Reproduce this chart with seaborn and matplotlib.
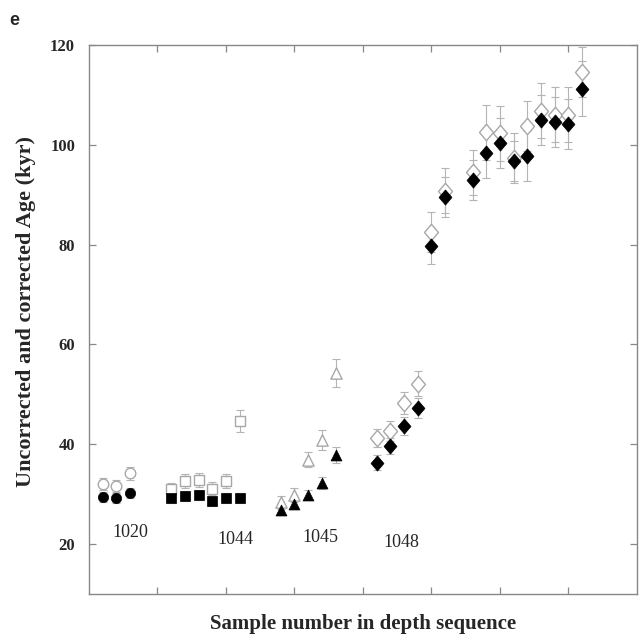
import numpy as np
import pandas as pd
import matplotlib
matplotlib.use("Agg")
import matplotlib.pyplot as plt
import seaborn as sns

# ---- data ----
circle_x = [1, 2, 3]
circle_corr = [29.5, 29.2, 30.2]
circle_corr_err = [1.0, 1.0, 1.0]
circle_unc = [32.0, 31.7, 34.2]
circle_unc_err = [1.2, 1.2, 1.3]

square_x = [6, 7, 8, 9, 10, 11]
square_corr = [29.2, 29.6, 29.8, 28.6, 29.3, 29.3]
square_corr_err = [1.0, 1.0, 1.0, 1.0, 1.0, 1.0]
square_unc = [31.0, 32.7, 32.9, 31.1, 32.6, 44.6]
square_unc_err = [1.2, 1.4, 1.4, 1.3, 1.4, 2.2]

tri_x = [14, 15, 16, 17, 18]
tri_corr = [26.8, 28.0, 29.8, 32.2, 37.8]
tri_corr_err = [1.0, 1.0, 1.0, 1.2, 1.6]
tri_unc = [28.4, 29.8, 36.9, 40.8, 54.3]
tri_unc_err = [1.3, 1.4, 1.5, 2.0, 2.8]

dia_x = [21, 22, 23, 24, 25, 26, 28, 29, 30, 31, 32, 33, 34, 35, 36]
dia_corr = [36.3, 39.6, 43.6, 47.3, 79.8, 89.5, 93.0, 98.3, 100.4, 96.8,
            97.8, 105.0, 104.5, 104.2, 111.2]
dia_corr_err = [1.5, 1.6, 1.8, 2.0, 3.6, 4.0, 4.0, 5.0, 5.0, 4.0,
                5.0, 5.0, 5.0, 5.0, 5.5]
dia_unc = [41.3, 42.6, 48.3, 52.1, 82.6, 90.8, 94.5, 102.5, 102.3, 97.4,
           103.7, 106.8, 106.0, 106.0, 114.5]
dia_unc_err = [1.8, 2.0, 2.2, 2.5, 4.0, 4.5, 4.5, 5.5, 5.5, 5.0,
               5.0, 5.5, 5.5, 5.5, 5.0]

group_names = ["1020", "1044", "1045", "1048"]
group_label_x = [3.0, 10.7, 16.9, 22.8]
group_label_y = [22.2, 20.8, 21.2, 20.2]

sns.set_style("white")
plt.rcParams["font.family"] = ["Liberation Serif", "DejaVu Serif"]

GREY = "#a8a8a8"
BAR = "#b4b4b4"
# diamond, slightly narrower than high
DIAMOND = [(0, 1), (0.85, 0), (0, -1), (-0.85, 0), (0, 1)]

fig = plt.figure(figsize=(6.42, 6.42), dpi=100)
ax = fig.add_axes([0.1386, 0.075, 0.8536, 0.855])

# marker, x, uncorrected, err, corrected, err, open size, filled size
series = [
    ("o", circle_x, circle_unc, circle_unc_err, circle_corr, circle_corr_err, 58, 55),
    ("s", square_x, square_unc, square_unc_err, square_corr, square_corr_err, 58, 60),
    ("^", tri_x, tri_unc, tri_unc_err, tri_corr, tri_corr_err, 66, 62),
    (DIAMOND, dia_x, dia_unc, dia_unc_err, dia_corr, dia_corr_err, 140, 120),
]

for marker, xs, unc, unc_err, corr, corr_err, s_open, s_fill in series:
    ax.errorbar(xs, unc, yerr=unc_err, fmt="none", ecolor=BAR,
                elinewidth=0.8, capsize=2.8, capthick=0.8, zorder=1)
    ax.errorbar(xs, corr, yerr=corr_err, fmt="none", ecolor=BAR,
                elinewidth=0.8, capsize=2.8, capthick=0.8, zorder=1)
    df_u = pd.DataFrame({"x": xs, "y": unc})
    df_c = pd.DataFrame({"x": xs, "y": corr})
    sns.scatterplot(data=df_u, x="x", y="y", marker=marker, s=s_open,
                    facecolor="white", edgecolor=GREY, linewidth=1.0,
                    ax=ax, zorder=2)
    sns.scatterplot(data=df_c, x="x", y="y", marker=marker, s=s_fill,
                    color="black", edgecolor="black", linewidth=0.5,
                    ax=ax, zorder=3)

for name, gx, gy in zip(group_names, group_label_x, group_label_y):
    ax.text(gx, gy, name, ha="center", va="center", fontsize=13)

ax.set_xlim(0, 40)
ax.set_ylim(10, 120)
ax.set_xticks([5, 10, 15, 20, 25, 30, 35])
ax.set_xticklabels([])
ax.set_yticks([20, 40, 60, 80, 100, 120])
ax.tick_params(axis="both", direction="in", length=5, color="#888888",
               top=True, right=True, bottom=True, left=True, width=0.9)
ax.tick_params(axis="y", labelsize=12, pad=10)
for lab in ax.get_yticklabels():
    lab.set_fontweight("bold")
for sp in ax.spines.values():
    sp.set_color("#888888")
    sp.set_linewidth(1.0)

ax.set_xlabel("Sample number in depth sequence", fontsize=15,
              fontweight="bold", labelpad=11)
ax.set_ylabel("Uncorrected and corrected Age (kyr)", fontsize=16,
              fontweight="bold")
ax.yaxis.set_label_coords(-0.097, 0.515)

fig.text(0.014, 0.968, "e", fontsize=13, fontweight="bold",
         family=["Liberation Sans", "DejaVu Sans"], va="center")

fig.savefig("out.png", dpi=100)
